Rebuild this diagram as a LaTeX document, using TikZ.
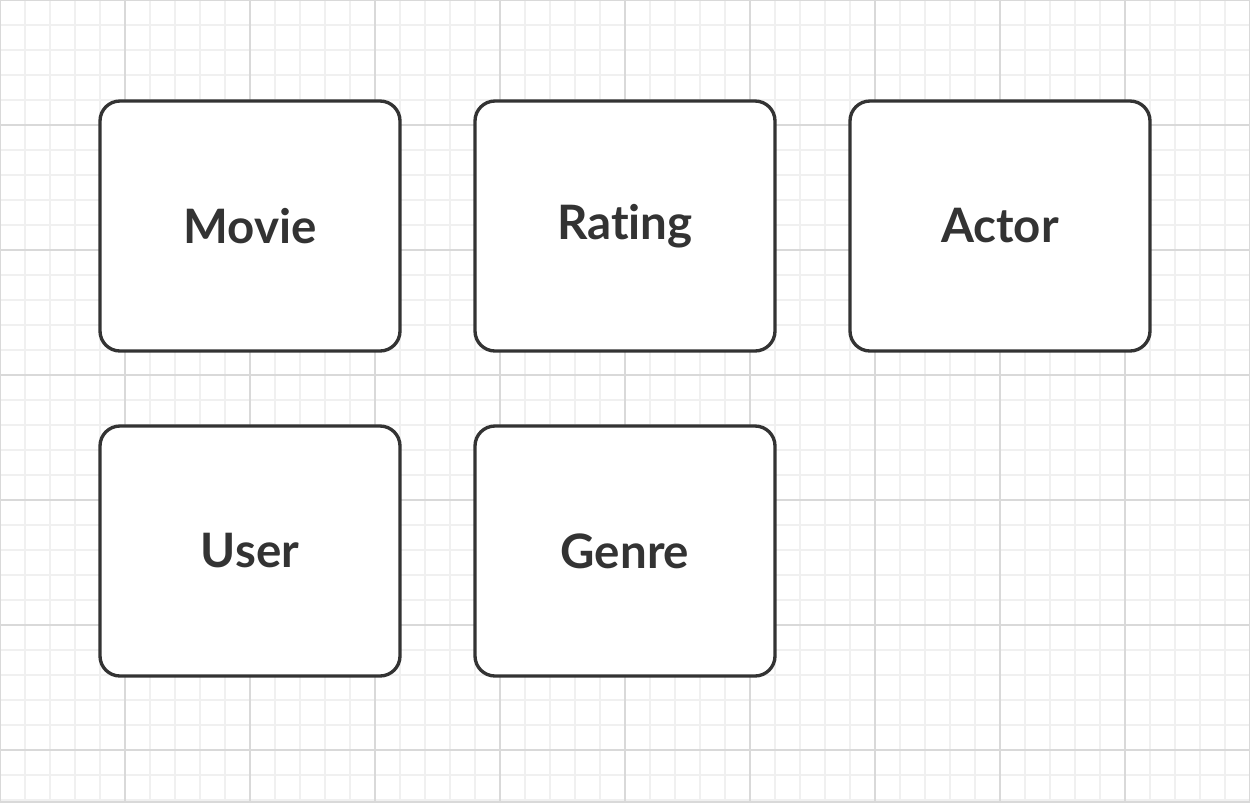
\documentclass[tikz,border=0pt]{standalone}
\usepackage{fontspec}
\setmainfont{Lato}[Ligatures=NoCommon]
\usepackage{xcolor}
\usepackage{tikz}
\usetikzlibrary{positioning}
\definecolor{minorgray}{HTML}{F0F0F0}
\definecolor{majorgray}{HTML}{D9D9D9}
\definecolor{boxdark}{HTML}{333333}
\begin{document}
\begin{tikzpicture}[
    entity/.style={draw=boxdark, line width=1.9pt, rounded corners=0.4cm,
        minimum width=6cm, minimum height=5cm, inner sep=0pt, outer sep=0pt,
        fill=white, text=boxdark, font=\fontsize{27}{30}\selectfont\bfseries}
    ]
        \useasboundingbox (0,0) rectangle (25,-16.04);
        \fill[white] (0,0) rectangle (25,-16.04);
        % background grid
        \draw[minorgray, line width=0.6pt] (0,0) grid[step=0.5] (25,-16.04);
        \draw[majorgray, line width=0.9pt] (0,0) grid[step=2.5] (25,-16.04);
        \draw[majorgray, line width=1.5pt] (0,0) rectangle (25,-16.04);
        % entities
        \node[entity] (movie) at (5,-4.52) {Movie};
        \node[entity, right=1.5cm of movie] (rating) {Rating};
        \node[entity, right=1.5cm of rating] (actor) {Actor};
        \node[entity, below=1.5cm of movie] (user) {User};
        \node[entity, below=1.5cm of rating] (genre) {Genre};
    \end{tikzpicture}
\end{document}
